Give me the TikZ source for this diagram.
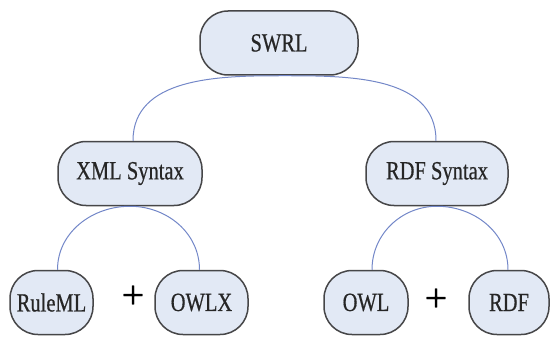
\documentclass[tikz,border=0pt]{standalone}
\usepackage{fontspec}
\setmainfont{Liberation Serif}
\newfontfamily\labelfont[FakeBold=0.6]{Liberation Serif}
\usetikzlibrary{calc}
\definecolor{boxfill}{RGB}{226,233,245}
\definecolor{boxline}{RGB}{70,70,72}
\definecolor{linkline}{RGB}{115,135,200}
% labels are set a little taller than the font's natural shape
\newcommand\tallabel[1]{\scalebox{1}[1.28]{#1}}
\begin{document}
\begin{tikzpicture}[x=1pt,y=-1pt,
  pill/.style={draw=boxline, line width=1.5pt, fill=boxfill, rounded corners=28pt,
    minimum height=64pt, inner sep=0pt, font=\labelfont\fontsize{20.5}{22}\selectfont, text=black!85},
  link/.style={draw=linkline, line width=1pt},
  plus/.style={font=\labelfont\fontsize{40}{42}\selectfont, inner sep=0pt}]
\useasboundingbox (0,0) rectangle (552,337);
% tree nodes
\node[pill, minimum width=158pt] (swrl) at (279,43) {\tallabel{SWRL}};
\node[pill, minimum width=144pt] (xml) at (130,173.5) {\tallabel{XML Syntax}};
\node[pill, minimum width=142pt] (rdfs) at (437,173.5) {\tallabel{RDF Syntax}};
\node[pill, minimum width=83pt] (ruleml) at (51.5,302.5) {\tallabel{RuleML}};
\node[pill, minimum width=93pt] (owlx) at (201.5,302.5) {\tallabel{OWLX}};
\node[pill, minimum width=84pt] (owl) at (366,302.5) {\tallabel{OWL}};
\node[pill, minimum width=80pt] (rdf) at (509,302.5) {\tallabel{RDF}};
\node[plus] (p1) at (133,297) {+};
\node[plus] (p2) at (436,300) {+};
% arches joining each parent to its two children
\draw[link] ($(xml.north)+(3,0)$) to[out=90,in=180] (swrl.south) to[out=0,in=90] ($(rdfs.north)+(-1,0)$);
\draw[link] ($(ruleml.north)+(6,0)$) to[out=90,in=180] (xml.south) to[out=0,in=90] ($(owlx.north)+(-2,0)$);
\draw[link] ($(owl.north)+(6,0)$) to[out=90,in=180] (rdfs.south) to[out=0,in=90] ($(rdf.north)+(-1,0)$);
\end{tikzpicture}
\end{document}
